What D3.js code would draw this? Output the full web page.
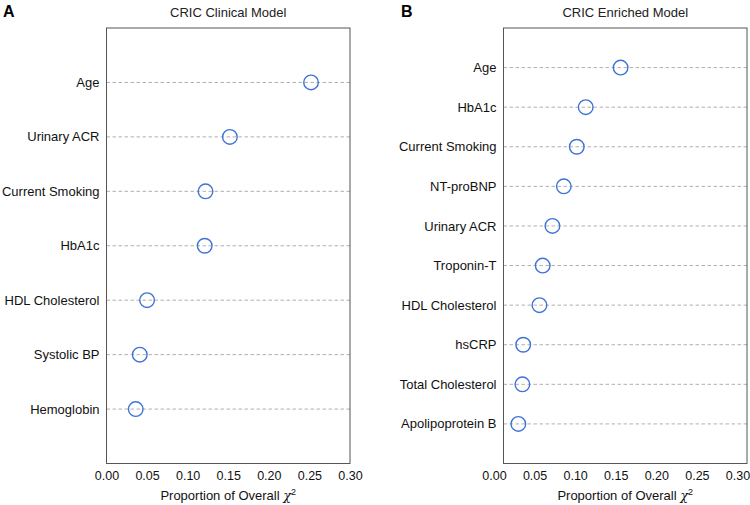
<!DOCTYPE html>
<html>
<head>
<meta charset="utf-8">
<script src="https://cdn.jsdelivr.net/npm/d3@7"></script>
<style>
  body { margin: 0; background: #fff; }
  svg { display: block; font-family: "Liberation Sans", Arial, Helvetica, sans-serif; }
</style>
</head>
<body>
<svg id="chart" width="750" height="505"></svg>
<script>
// ---- data ----
const clinicalLabels = ["Age", "Urinary ACR", "Current Smoking", "HbA1c", "HDL Cholesterol", "Systolic BP", "Hemoglobin"];
const clinicalValues = [0.252, 0.152, 0.122, 0.121, 0.050, 0.041, 0.036];

const enrichedLabels = ["Age", "HbA1c", "Current Smoking", "NT-proBNP", "Urinary ACR", "Troponin-T", "HDL Cholesterol", "hsCRP", "Total Cholesterol", "Apolipoprotein B"];
const enrichedValues = [0.156, 0.113, 0.102, 0.086, 0.072, 0.060, 0.056, 0.036, 0.035, 0.030];

const xTicks = [0.00, 0.05, 0.10, 0.15, 0.20, 0.25, 0.30];
const xDomain = [0, 0.30];

const panelTitles = ["CRIC Clinical Model", "CRIC Enriched Model"];
const panelLetters = ["A", "B"];

// ---- drawing ----
const svg = d3.select("#chart");
const plotTop = 28, plotBottom = 463.5;

const panels = [
  { letter: panelLetters[0], title: panelTitles[0], labels: clinicalLabels, values: clinicalValues,
    left: 106.5, right: 350, axisShift: 0, letterX: 3 },
  { letter: panelLetters[1], title: panelTitles[1], labels: enrichedLabels, values: enrichedValues,
    left: 503.5, right: 747, axisShift: -9.5, letterX: 401 }
];

panels.forEach(p => {
  const g = svg.append("g");
  const x = d3.scaleLinear().domain(xDomain).range([p.left + p.axisShift, p.right + p.axisShift]);
  const y = d3.scalePoint().domain(p.labels).range([plotTop, plotBottom]).padding(1);

  // panel letter
  g.append("text").attr("x", p.letterX).attr("y", 17)
    .attr("font-size", 16).attr("font-weight", "bold").attr("fill", "#000").text(p.letter);

  // title
  g.append("text").attr("x", (p.left + p.right) / 2).attr("y", 16.5)
    .attr("text-anchor", "middle").attr("font-size", 13).attr("fill", "#222").text(p.title);

  // gridlines
  g.append("g").selectAll("line").data(p.labels).join("line")
    .attr("x1", p.left).attr("x2", p.right)
    .attr("y1", d => y(d)).attr("y2", d => y(d))
    .attr("stroke", "#b0b0b0").attr("stroke-width", 1).attr("stroke-dasharray", "3.5,2.5");

  // row labels
  g.append("g").selectAll("text").data(p.labels).join("text")
    .attr("x", p.left - 7).attr("y", d => y(d)).attr("dy", "0.35em")
    .attr("text-anchor", "end").attr("font-size", 13).attr("fill", "#111").text(d => d);

  // points
  g.append("g").selectAll("circle").data(p.values).join("circle")
    .attr("cx", d => x(d)).attr("cy", (d, i) => y(p.labels[i]))
    .attr("r", 7.3).attr("fill", "none").attr("stroke", "#3f72d6").attr("stroke-width", 1.4);

  // frame
  g.append("rect").attr("x", p.left).attr("y", plotTop)
    .attr("width", p.right - p.left).attr("height", plotBottom - plotTop)
    .attr("fill", "none").attr("stroke", "#555").attr("stroke-width", 1);

  // x axis
  const ax = g.append("g").attr("transform", `translate(0,${plotBottom})`)
    .call(d3.axisBottom(x).tickValues(xTicks).tickFormat(d3.format(".2f")).tickSize(0).tickPadding(7.5));
  ax.select(".domain").remove();
  ax.selectAll("text").attr("font-size", 12.5).attr("fill", "#111")
    .attr("font-family", "\"Liberation Sans\", Arial, Helvetica, sans-serif");

  // axis title
  const t = g.append("text").attr("x", (p.left + p.right) / 2).attr("y", 499.5)
    .attr("text-anchor", "middle").attr("font-size", 13).attr("fill", "#111");
  t.append("tspan").text("Proportion of Overall ");
  t.append("tspan").attr("font-style", "italic").attr("font-family", "\"DejaVu Serif\", serif").text("χ");
  t.append("tspan").attr("font-size", 9).attr("dy", -5).text("2");
});
</script>
</body>
</html>
